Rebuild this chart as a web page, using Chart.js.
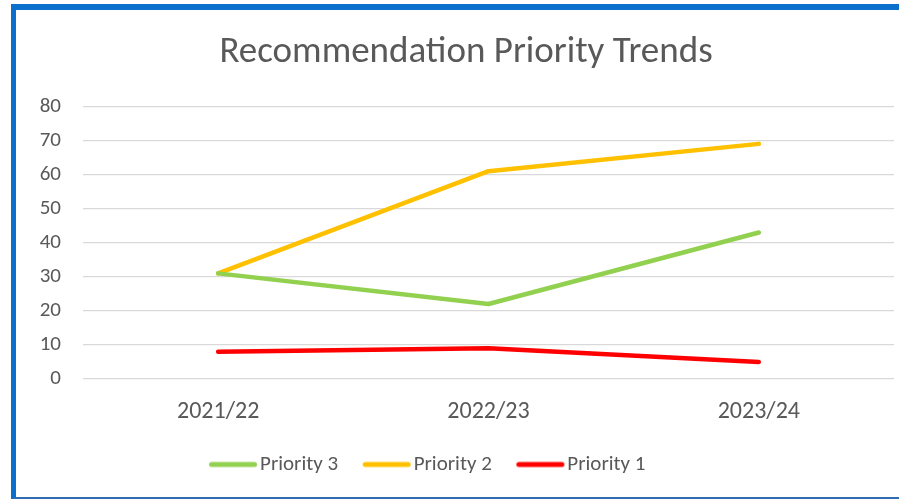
<!DOCTYPE html>
<html>
<head>
<meta charset="utf-8">
<script src="https://cdn.jsdelivr.net/npm/chart.js@4.4.1/dist/chart.umd.min.js"></script>
<style>
    html, body { margin: 0; padding: 0; background: #fff; }
    body { width: 899px; height: 500px; overflow: hidden; position: relative; }
    /* blue frame around the chart, right edge runs off the page */
    #frame {
        position: absolute;
        left: 11px; top: 4px;
        width: 900px; height: 487px;
        border-left: 5px solid #0a70cc;
        border-top: 6px solid #0a70cc;
        border-bottom: 2px solid #2f6db0;
    }
    #wrap { position: absolute; left: 0; top: 0; width: 883px; height: 487px; }
</style>
</head>
<body>
<div id="frame">
    <div id="wrap"><canvas id="trendChart"></canvas></div>
</div>
<script>
// chart data
const years = ['2021/22', '2022/23', '2023/24'];
const priority3 = [31, 22, 43];
const priority2 = [31, 61, 69];
const priority1 = [8, 9, 5];
const yTicks = [0, 10, 20, 30, 40, 50, 60, 70, 80];

const FONT = 'Calibri, Carlito, Lato, sans-serif';
const TEXT = '#595959';
const LEGEND_SIZE = 21;
const LEGEND_BOX = 41;   // slot chart.js reserves for the swatch
const SWATCH = 49;       // actual drawn swatch length

function line(label, data, color) {
    return {
        label: label,
        data: data,
        borderColor: color,
        backgroundColor: color,
        borderWidth: 4.5,
        borderCapStyle: 'round',
        borderJoinStyle: 'round',
        pointRadius: 0,
        pointHoverRadius: 0,
        tension: 0,
        fill: false
    };
}

// legend swatch: a short thick line, drawn so it sits close to the text like in Excel
function swatch(color) {
    const c = document.createElement('canvas');
    c.width = 110;
    c.height = 10;
    const ctx = c.getContext('2d');
    const left = c.width / 2 - LEGEND_BOX / 2;
    ctx.strokeStyle = color;
    ctx.lineWidth = 5;
    ctx.lineCap = 'round';
    ctx.beginPath();
    ctx.moveTo(left + 3, 5);
    ctx.lineTo(left + SWATCH - 3, 5);
    ctx.stroke();
    return c;
}

// Excel doesn't center title and legend on the same axis, nudge them
const nudgeBoxes = {
    id: 'nudgeBoxes',
    afterLayout(chart) {
        chart.titleBlock.left += 11;
        chart.titleBlock.right += 11;
        chart.legend.left -= 28;
        chart.legend.right -= 28;
    }
};

new Chart(document.getElementById('trendChart'), {
    type: 'line',
    data: {
        labels: years,
        datasets: [
            line('Priority 3', priority3, '#92d050'),
            line('Priority 2', priority2, '#ffc000'),
            line('Priority 1', priority1, '#ff0000')
        ]
    },
    plugins: [nudgeBoxes],
    options: {
        responsive: true,
        maintainAspectRatio: false,
        animation: false,
        layout: { padding: { left: 0, right: 5, top: 0, bottom: 12 } },
        plugins: {
            tooltip: { enabled: false },
            title: {
                display: true,
                text: 'Recommendation Priority Trends',
                color: TEXT,
                font: { family: FONT, size: 37, weight: 'normal' },
                padding: { top: 21, bottom: 31 }
            },
            legend: {
                position: 'bottom',
                labels: {
                    usePointStyle: true,
                    pointStyleWidth: LEGEND_BOX,
                    boxHeight: LEGEND_SIZE,
                    padding: 24,
                    color: TEXT,
                    font: { family: FONT, size: LEGEND_SIZE },
                    generateLabels: (chart) => {
                        const items = Chart.defaults.plugins.legend.labels.generateLabels(chart);
                        items.forEach(it => { it.pointStyle = swatch(it.strokeStyle); });
                        return items;
                    }
                }
            }
        },
        scales: {
            x: {
                offset: true,
                grid: { display: false, drawTicks: false },
                border: { display: false },
                ticks: {
                    color: TEXT,
                    padding: 19,
                    font: { family: FONT, size: 24 }
                },
                afterFit: (scale) => { scale.height = 51; }
            },
            y: {
                min: 0,
                max: 80,
                afterBuildTicks: (scale) => {
                    scale.ticks = yTicks.map(v => ({ value: v }));
                },
                grid: { color: '#d9d9d9', lineWidth: 1.3, drawTicks: false },
                border: { display: false },
                ticks: {
                    color: TEXT,
                    padding: 22,
                    font: { family: FONT, size: 21 }
                },
                afterFit: (scale) => { scale.width = 67; }
            }
        }
    }
});
</script>
</body>
</html>
